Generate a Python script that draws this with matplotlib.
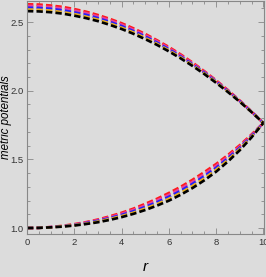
import matplotlib
matplotlib.use('Agg')
import matplotlib.pyplot as plt
from matplotlib.ticker import MultipleLocator

# radial grid
r = [0, 0.5, 1, 1.5, 2, 2.5, 3, 3.5, 4, 4.5, 5, 5.5, 6, 6.5, 7, 7.5, 8, 8.5, 9, 9.5, 10]

# upper family of potentials (decreasing)
top_red = [2.630, 2.628, 2.621, 2.611, 2.595, 2.576, 2.552, 2.524, 2.492, 2.455, 2.414,
           2.368, 2.319, 2.265, 2.206, 2.143, 2.076, 2.005, 1.929, 1.849, 1.765]
top_magenta = [2.618, 2.616, 2.609, 2.599, 2.584, 2.565, 2.541, 2.514, 2.482, 2.445, 2.405,
               2.360, 2.311, 2.258, 2.200, 2.138, 2.072, 2.002, 1.927, 1.848, 1.765]
top_blue = [2.605, 2.603, 2.597, 2.586, 2.571, 2.553, 2.529, 2.502, 2.471, 2.435, 2.395,
            2.351, 2.303, 2.250, 2.193, 2.133, 2.067, 1.998, 1.925, 1.847, 1.765]
top_orange = [2.592, 2.590, 2.584, 2.573, 2.559, 2.540, 2.518, 2.491, 2.460, 2.425, 2.385,
              2.342, 2.294, 2.243, 2.187, 2.127, 2.063, 1.995, 1.922, 1.846, 1.765]
top_black = [2.580, 2.578, 2.572, 2.562, 2.547, 2.529, 2.507, 2.480, 2.450, 2.415, 2.376,
             2.334, 2.287, 2.236, 2.181, 2.122, 2.058, 1.991, 1.920, 1.845, 1.765]

# lower family of potentials (increasing)
bot_red = [1.000, 1.001, 1.007, 1.016, 1.028, 1.043, 1.062, 1.085, 1.111, 1.141, 1.176,
           1.213, 1.255, 1.300, 1.351, 1.407, 1.466, 1.532, 1.603, 1.681, 1.765]
bot_magenta = [1.000, 1.001, 1.007, 1.014, 1.025, 1.040, 1.057, 1.078, 1.103, 1.132, 1.164,
               1.201, 1.241, 1.286, 1.336, 1.392, 1.452, 1.520, 1.593, 1.675, 1.765]
bot_blue = [1.000, 1.001, 1.006, 1.013, 1.023, 1.036, 1.052, 1.072, 1.095, 1.122, 1.153,
            1.188, 1.227, 1.271, 1.321, 1.377, 1.438, 1.508, 1.584, 1.670, 1.765]
bot_orange = [1.000, 1.001, 1.005, 1.012, 1.021, 1.032, 1.047, 1.066, 1.087, 1.112, 1.142,
              1.175, 1.213, 1.256, 1.306, 1.362, 1.424, 1.496, 1.575, 1.665, 1.765]
bot_black = [1.000, 1.001, 1.005, 1.010, 1.018, 1.029, 1.042, 1.059, 1.079, 1.103, 1.131,
             1.163, 1.199, 1.242, 1.291, 1.347, 1.410, 1.484, 1.566, 1.660, 1.765]

bg = '#dcdcdc'
fig = plt.figure(figsize=(2.66, 2.77), dpi=100, facecolor=bg)
ax = fig.add_axes([0.1015, 0.155, 0.892, 0.841], facecolor=bg)

series = [
    (top_red, bot_red, '#ff1a1a'),
    (top_magenta, bot_magenta, '#e8409a'),
    (top_blue, bot_blue, '#2020ff'),
    (top_orange, bot_orange, '#e8b020'),
    (top_black, bot_black, 'black'),
]
for top, bot, c in series:
    ax.plot(r, top, color=c, lw=1.9, dashes=(2.4, 1.2))
    ax.plot(r, bot, color=c, lw=1.9, dashes=(2.4, 1.2))

ax.set_xlim(0, 10.04)
ax.set_ylim(0.956, 2.653)
ax.xaxis.set_major_locator(MultipleLocator(2))
ax.xaxis.set_minor_locator(MultipleLocator(0.5))
ax.yaxis.set_major_locator(MultipleLocator(0.5))
ax.yaxis.set_minor_locator(MultipleLocator(0.1))
ax.tick_params(which='both', direction='in', top=True, right=True,
               colors='#888888', labelcolor='#333333', labelsize=6.8, width=0.6,
               pad=2.5)
ax.tick_params(which='major', length=4)
ax.tick_params(which='minor', length=2)
ax.xaxis.set_major_formatter(plt.FuncFormatter(lambda v, p: '%d' % v))
ax.yaxis.set_major_formatter(plt.FuncFormatter(lambda v, p: '%.1f' % v))
for lab in ax.get_xticklabels() + ax.get_yticklabels():
    lab.set_family(['Liberation Sans Narrow', 'Liberation Sans', 'DejaVu Sans'])
for s in ax.spines.values():
    s.set_color('#888888')
    s.set_linewidth(0.8)

ax.set_xlabel('r', fontsize=11, style='italic', family='Liberation Sans')
ax.xaxis.set_label_coords(0.5, -0.11)
ax.set_ylabel('metric potentials', fontsize=8.3, style='italic',
              family='Liberation Sans')
ax.yaxis.set_label_coords(-0.065, 0.5)

fig.savefig('out.png', dpi=100, facecolor=bg)
